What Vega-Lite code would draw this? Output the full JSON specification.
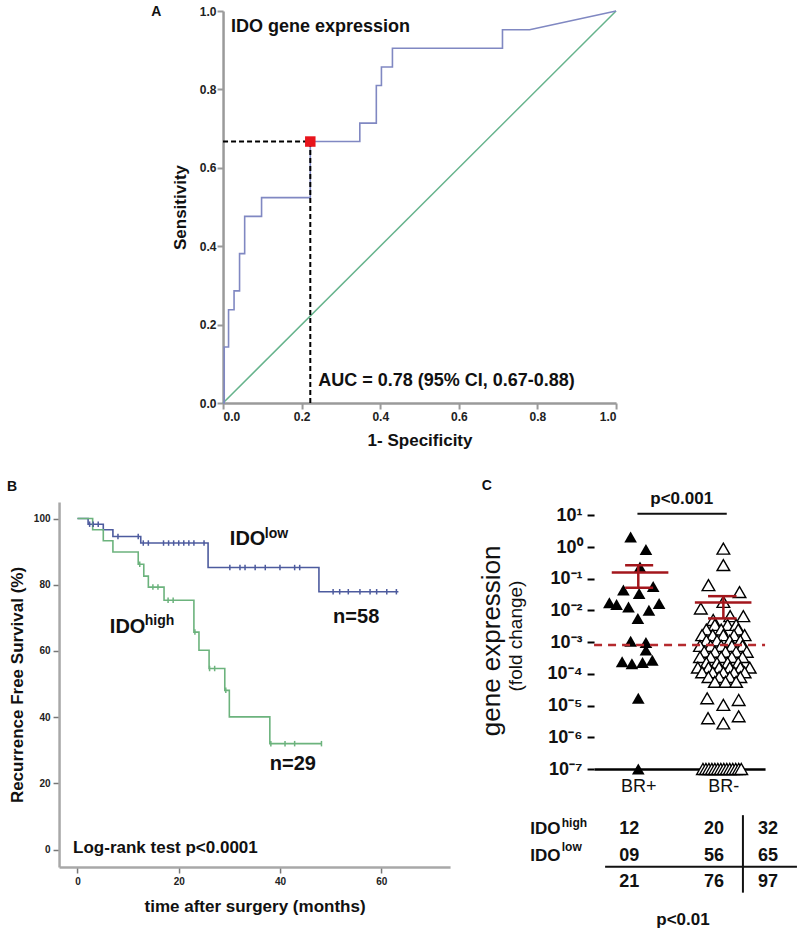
{
  "$schema": "https://vega.github.io/schema/vega-lite/v6.json",
  "background": "white",
  "padding": {"left": 7, "top": 5, "right": 0, "bottom": 0},
  "config": {
    "view": {"stroke": null},
    "axis": {"grid": false, "labelFont": "Liberation Sans", "titleFont": "Liberation Sans"},
    "text": {"font": "Liberation Sans"}
  },
  "center": true,
  "spacing": 31,
  "vconcat": [
    {
      "width": 393,
      "height": 392,
      "encoding": {
        "x": {"field": "x", "type": "quantitative", "scale": {"domain": [0, 1], "nice": false, "zero": false},
          "axis": {"title": "1- Specificity", "values": [0, 0.2, 0.4, 0.6, 0.8, 1], "format": ".1f",
            "domainColor": "#9a9a9a", "domainWidth": 2.5, "tickColor": "#9a9a9a", "tickWidth": 2, "tickSize": 6,
            "labelFontSize": 12, "labelFontWeight": "bold", "labelColor": "#222", "labelPadding": 2,
            "titleFontSize": 17, "titleFontWeight": "bold", "titleColor": "#111", "titlePadding": 10}},
        "y": {"field": "y", "type": "quantitative", "scale": {"domain": [0, 1], "nice": false, "zero": false},
          "axis": {"title": "Sensitivity", "values": [0, 0.2, 0.4, 0.6, 0.8, 1], "format": ".1f",
            "domainColor": "#9a9a9a", "domainWidth": 2.5, "tickColor": "#9a9a9a", "tickWidth": 2, "tickSize": 6,
            "labelFontSize": 12, "labelFontWeight": "bold", "labelColor": "#222", "labelPadding": 1,
            "titleFontSize": 17, "titleFontWeight": "bold", "titleColor": "#111", "titlePadding": 10}}
      },
      "layer": [
        {
          "data": {"values": [{"x": 0, "y": 0}, {"x": 1, "y": 1}]},
          "mark": {"type": "line", "color": "#66b38c", "strokeWidth": 1.5}
        },
        {
          "data": {"values": [
            {"i": 0, "x": 0, "y": 0}, {"i": 1, "x": 0.003, "y": 0}, {"i": 2, "x": 0.003, "y": 0.143},
            {"i": 3, "x": 0.014, "y": 0.143}, {"i": 4, "x": 0.014, "y": 0.238}, {"i": 5, "x": 0.028, "y": 0.238},
            {"i": 6, "x": 0.028, "y": 0.286}, {"i": 7, "x": 0.042, "y": 0.286}, {"i": 8, "x": 0.042, "y": 0.381},
            {"i": 9, "x": 0.055, "y": 0.381}, {"i": 10, "x": 0.055, "y": 0.476}, {"i": 11, "x": 0.098, "y": 0.476},
            {"i": 12, "x": 0.098, "y": 0.524}, {"i": 13, "x": 0.222, "y": 0.524}, {"i": 14, "x": 0.222, "y": 0.667},
            {"i": 15, "x": 0.348, "y": 0.667}, {"i": 16, "x": 0.348, "y": 0.714}, {"i": 17, "x": 0.39, "y": 0.714},
            {"i": 18, "x": 0.39, "y": 0.81}, {"i": 19, "x": 0.403, "y": 0.81}, {"i": 20, "x": 0.403, "y": 0.857},
            {"i": 21, "x": 0.431, "y": 0.857}, {"i": 22, "x": 0.431, "y": 0.905}, {"i": 23, "x": 0.711, "y": 0.905},
            {"i": 24, "x": 0.711, "y": 0.952}, {"i": 25, "x": 0.78, "y": 0.952}, {"i": 26, "x": 1, "y": 1}
          ]},
          "mark": {"type": "line", "color": "#8088c2", "strokeWidth": 1.6},
          "encoding": {"order": {"field": "i", "type": "quantitative"}}
        },
        {
          "data": {"values": [
            {"x": 0, "y": 0.667, "x2": 0.222, "y2": 0.667},
            {"x": 0.222, "y": 0, "x2": 0.222, "y2": 0.667}
          ]},
          "mark": {"type": "rule", "color": "black", "strokeDash": [5, 3], "strokeWidth": 2},
          "encoding": {"x2": {"field": "x2"}, "y2": {"field": "y2"}}
        },
        {
          "data": {"values": [{"x": 0.222, "y": 0.667}]},
          "mark": {"type": "point", "shape": "square", "filled": true, "color": "#e8141c", "size": 110, "opacity": 1}
        },
        {
          "data": {"values": [{"x": 1.043, "y": 0}]},
          "mark": {"type": "point", "filled": true, "color": "white", "size": 4, "opacity": 0}
        },
        {
          "data": {"values": [
            {"x": 0.02, "y": 0.947, "label": "IDO gene expression"},
            {"x": 0.242, "y": 0.043, "label": "AUC = 0.78 (95% CI, 0.67-0.88)"}
          ]},
          "mark": {"type": "text", "align": "left", "baseline": "alphabetic", "fontWeight": "bold", "fontSize": 18, "color": "#111"},
          "encoding": {"text": {"field": "label"}}
        },
        {
          "data": {"values": [{"x": -0.17, "y": 0.997, "label": "A"}]},
          "mark": {"type": "text", "align": "center", "baseline": "middle", "fontWeight": "bold", "fontSize": 14, "color": "#111"},
          "encoding": {"text": {"field": "label"}}
        }
      ]
    },
    {
      "spacing": 28,
      "hconcat": [
        {
          "width": 391,
          "height": 365,
          "encoding": {
            "x": {"field": "t", "type": "quantitative", "scale": {"domain": [-3.64, 73.6], "nice": false, "zero": false},
              "axis": {"title": "time after surgery (months)", "values": [0, 20, 40, 60],
                "domainColor": "#a8a8a8", "domainWidth": 2.5, "tickColor": "#777", "tickWidth": 1.5, "tickSize": 6,
                "labelFontSize": 10, "labelFontWeight": "bold", "labelColor": "#222", "labelPadding": 3,
                "titleFontSize": 17, "titleFontWeight": "bold", "titleColor": "#111", "titlePadding": 12}},
            "y": {"field": "s", "type": "quantitative", "scale": {"domain": [-5.26, 105], "nice": false, "zero": false},
              "axis": {"title": "Recurrence Free Survival (%)", "values": [0, 20, 40, 60, 80, 100],
                "domainColor": "#a8a8a8", "domainWidth": 2.5, "tickColor": "#777", "tickWidth": 1.5, "tickSize": 6,
                "labelFontSize": 10, "labelFontWeight": "bold", "labelColor": "#222", "labelPadding": 3,
                "titleFontSize": 17, "titleFontWeight": "bold", "titleColor": "#111", "titlePadding": 7}}
          },
          "layer": [
            {
              "data": {"values": [
                {"g": "low", "t": 0, "s": 100}, {"g": "low", "t": 2.1, "s": 98.3}, {"g": "low", "t": 5.1, "s": 96.6},
                {"g": "low", "t": 7.0, "s": 94.6}, {"g": "low", "t": 12.5, "s": 92.6}, {"g": "low", "t": 25.8, "s": 85.2},
                {"g": "low", "t": 47.7, "s": 77.9}, {"g": "low", "t": 63.4, "s": 77.9},
                {"g": "high", "t": 0, "s": 100}, {"g": "high", "t": 3.0, "s": 96.6}, {"g": "high", "t": 5.1, "s": 93.3},
                {"g": "high", "t": 7.0, "s": 89.9}, {"g": "high", "t": 12.0, "s": 86.2}, {"g": "high", "t": 13.1, "s": 82.6},
                {"g": "high", "t": 14.0, "s": 79.3}, {"g": "high", "t": 17.1, "s": 75.3}, {"g": "high", "t": 23.0, "s": 65.7},
                {"g": "high", "t": 24.0, "s": 60.2}, {"g": "high", "t": 26.0, "s": 54.7}, {"g": "high", "t": 29.1, "s": 48.1},
                {"g": "high", "t": 30.0, "s": 40.1}, {"g": "high", "t": 38.0, "s": 32.0}, {"g": "high", "t": 48.2, "s": 32.0}
              ]},
              "mark": {"type": "line", "interpolate": "step-after", "strokeWidth": 1.6},
              "encoding": {
                "color": {"field": "g", "type": "nominal", "scale": {"domain": ["low", "high"], "range": ["#4d5b9e", "#6cb37d"]}, "legend": null},
                "order": {"field": "t", "type": "quantitative"}
              }
            },
            {
              "data": {"values": [
                {"g": "low", "t": 2.4, "s": 98.3}, {"g": "low", "t": 3.1, "s": 98.3}, {"g": "low", "t": 4.1, "s": 98.3},
                {"g": "low", "t": 8.0, "s": 94.6}, {"g": "low", "t": 12.0, "s": 94.6},
                {"g": "low", "t": 13.0, "s": 92.6}, {"g": "low", "t": 14.0, "s": 92.6}, {"g": "low", "t": 17.0, "s": 92.6},
                {"g": "low", "t": 18.0, "s": 92.6}, {"g": "low", "t": 19.0, "s": 92.6}, {"g": "low", "t": 20.0, "s": 92.6},
                {"g": "low", "t": 21.0, "s": 92.6}, {"g": "low", "t": 22.0, "s": 92.6}, {"g": "low", "t": 23.0, "s": 92.6},
                {"g": "low", "t": 25.0, "s": 92.6},
                {"g": "low", "t": 30.1, "s": 85.2}, {"g": "low", "t": 32.1, "s": 85.2}, {"g": "low", "t": 33.1, "s": 85.2},
                {"g": "low", "t": 35.1, "s": 85.2}, {"g": "low", "t": 37.1, "s": 85.2}, {"g": "low", "t": 40.0, "s": 85.2},
                {"g": "low", "t": 42.9, "s": 85.2}, {"g": "low", "t": 43.9, "s": 85.2},
                {"g": "low", "t": 50.5, "s": 77.9}, {"g": "low", "t": 51.8, "s": 77.9}, {"g": "low", "t": 53.5, "s": 77.9},
                {"g": "low", "t": 55.8, "s": 77.9}, {"g": "low", "t": 57.8, "s": 77.9}, {"g": "low", "t": 59.1, "s": 77.9},
                {"g": "low", "t": 61.1, "s": 77.9}, {"g": "low", "t": 63.0, "s": 77.9},
                {"g": "high", "t": 12.3, "s": 86.2}, {"g": "high", "t": 14.9, "s": 79.3}, {"g": "high", "t": 15.9, "s": 79.3},
                {"g": "high", "t": 17.9, "s": 75.3}, {"g": "high", "t": 18.9, "s": 75.3}, {"g": "high", "t": 23.2, "s": 65.7},
                {"g": "high", "t": 26.1, "s": 54.7}, {"g": "high", "t": 27.1, "s": 54.7}, {"g": "high", "t": 29.3, "s": 48.1},
                {"g": "high", "t": 38.2, "s": 32.0}, {"g": "high", "t": 41.0, "s": 32.0}, {"g": "high", "t": 42.9, "s": 32.0},
                {"g": "high", "t": 48.2, "s": 32.0}
              ]},
              "mark": {"type": "point", "shape": "M0,-1L0,1", "size": 30, "strokeWidth": 1.5, "opacity": 1},
              "encoding": {
                "color": {"field": "g", "type": "nominal", "scale": {"domain": ["low", "high"], "range": ["#4d5b9e", "#6cb37d"]}, "legend": null}
              }
            },
            {
              "data": {"values": [
                {"t": 30.1, "s": 91.9, "label": "IDO"},
                {"t": 6.4, "s": 65.3, "label": "IDO"},
                {"t": 50.5, "s": 68.3, "label": "n=58"},
                {"t": 38.0, "s": 24.0, "label": "n=29"}
              ]},
              "mark": {"type": "text", "align": "left", "baseline": "alphabetic", "fontWeight": "bold", "fontSize": 20, "color": "#111"},
              "encoding": {"text": {"field": "label"}}
            },
            {
              "data": {"values": [
                {"t": 37.0, "s": 94.0, "label": "low"},
                {"t": 13.3, "s": 67.8, "label": "high"}
              ]},
              "mark": {"type": "text", "align": "left", "baseline": "alphabetic", "fontWeight": "bold", "fontSize": 14, "color": "#111"},
              "encoding": {"text": {"field": "label"}}
            },
            {
              "data": {"values": [{"t": -0.87, "s": -0.9, "label": "Log-rank test p<0.0001"}]},
              "mark": {"type": "text", "align": "left", "baseline": "alphabetic", "fontWeight": "bold", "fontSize": 17, "color": "#111"},
              "encoding": {"text": {"field": "label"}}
            },
            {
              "data": {"values": [{"t": -12.9, "s": 109.5, "label": "B"}]},
              "mark": {"type": "text", "align": "center", "baseline": "middle", "fontWeight": "bold", "fontSize": 14, "color": "#111"},
              "encoding": {"text": {"field": "label"}}
            }
          ]
        },
        {
          "width": 171,
          "height": 267,
          "encoding": {
            "x": {"field": "x", "type": "quantitative", "scale": {"domain": [-0.04, 3.98], "nice": false, "zero": false},
              "axis": {"title": null, "values": [1, 3], "labelExpr": "datum.value == 1 ? 'BR+' : 'BR-'",
                "domainColor": "black", "domainWidth": 2.5, "tickSize": 0,
                "labelFontSize": 18, "labelFontWeight": "normal", "labelColor": "#111", "labelPadding": 8}},
            "y": {"field": "v", "type": "quantitative", "scale": {"type": "log", "domain": [1e-7, 26.3], "nice": false},
              "axis": {"title": "(fold change)", "values": [1e-7, 1e-6, 1e-5, 1e-4, 1e-3, 1e-2, 1e-1, 1, 10],
                "labelExpr": "'10' + (round(log(datum.value)/LN10) < 0 ? '⁻' : '') + substring('⁰¹²³⁴⁵⁶⁷', abs(round(log(datum.value)/LN10)), abs(round(log(datum.value)/LN10)) + 1)",
                "domain": false, "tickColor": "black", "tickWidth": 2, "tickSize": 7,
                "labelFontSize": 18, "labelFontWeight": "bold", "labelColor": "#111", "labelPadding": 5,
                "titleFontSize": 19, "titleFontWeight": "normal", "titleColor": "#111", "titlePadding": 22}}
          },
          "layer": [
            {
              "data": {"values": [{"v": 1e-7, "v2": 10}]},
              "mark": {"type": "rule", "color": "black", "strokeWidth": 3},
              "encoding": {"x": {"datum": -0.04}, "y2": {"field": "v2"}}
            },
            {
              "data": {"values": [
                {"v": 2e-7}, {"v": 3e-7}, {"v": 4e-7}, {"v": 5e-7}, {"v": 6e-7}, {"v": 7e-7}, {"v": 8e-7}, {"v": 9e-7},
                {"v": 2e-6}, {"v": 3e-6}, {"v": 4e-6}, {"v": 5e-6}, {"v": 6e-6}, {"v": 7e-6}, {"v": 8e-6}, {"v": 9e-6},
                {"v": 2e-5}, {"v": 3e-5}, {"v": 4e-5}, {"v": 5e-5}, {"v": 6e-5}, {"v": 7e-5}, {"v": 8e-5}, {"v": 9e-5},
                {"v": 2e-4}, {"v": 3e-4}, {"v": 4e-4}, {"v": 5e-4}, {"v": 6e-4}, {"v": 7e-4}, {"v": 8e-4}, {"v": 9e-4},
                {"v": 0.002}, {"v": 0.003}, {"v": 0.004}, {"v": 0.005}, {"v": 0.006}, {"v": 0.007}, {"v": 0.008}, {"v": 0.009},
                {"v": 0.02}, {"v": 0.03}, {"v": 0.04}, {"v": 0.05}, {"v": 0.06}, {"v": 0.07}, {"v": 0.08}, {"v": 0.09},
                {"v": 0.2}, {"v": 0.3}, {"v": 0.4}, {"v": 0.5}, {"v": 0.6}, {"v": 0.7}, {"v": 0.8}, {"v": 0.9},
                {"v": 2}, {"v": 3}, {"v": 4}, {"v": 5}, {"v": 6}, {"v": 7}, {"v": 8}, {"v": 9}
              ]},
              "mark": {"type": "rule", "color": "black", "strokeWidth": 1.5},
              "encoding": {"x": {"datum": -0.134}, "x2": {"datum": -0.04}}
            },
            {
              "data": {"values": [
                {"x": 3.0, "v": 0.89}, {"x": 3.0, "v": 0.27}, {"x": 2.65, "v": 0.063}, {"x": 3.38, "v": 0.038},
                {"x": 3.0, "v": 0.0186}, {"x": 2.47, "v": 0.0115}, {"x": 3.47, "v": 0.0066}, {"x": 3.16, "v": 0.0066},
                {"x": 2.76, "v": 0.005},
                {"x": 2.8, "v": 0.0035}, {"x": 3.1, "v": 0.0035}, {"x": 3.3, "v": 0.0035},
                {"x": 2.6, "v": 0.0025}, {"x": 2.95, "v": 0.0025}, {"x": 3.35, "v": 0.0025},
                {"x": 2.5, "v": 0.00166}, {"x": 2.75, "v": 0.00166}, {"x": 3.0, "v": 0.00166}, {"x": 3.25, "v": 0.00166}, {"x": 3.5, "v": 0.00166},
                {"x": 2.6, "v": 0.00112}, {"x": 2.85, "v": 0.00112}, {"x": 3.15, "v": 0.00112}, {"x": 3.4, "v": 0.00112},
                {"x": 2.45, "v": 0.00076}, {"x": 2.7, "v": 0.00076}, {"x": 2.95, "v": 0.00076}, {"x": 3.2, "v": 0.00076}, {"x": 3.45, "v": 0.00076},
                {"x": 2.55, "v": 0.0005}, {"x": 2.8, "v": 0.0005}, {"x": 3.05, "v": 0.0005}, {"x": 3.3, "v": 0.0005}, {"x": 3.55, "v": 0.0005},
                {"x": 2.45, "v": 0.00034}, {"x": 2.7, "v": 0.00034}, {"x": 2.95, "v": 0.00034}, {"x": 3.2, "v": 0.00034}, {"x": 3.45, "v": 0.00034},
                {"x": 2.6, "v": 0.000224}, {"x": 2.85, "v": 0.000224}, {"x": 3.1, "v": 0.000224}, {"x": 3.35, "v": 0.000224},
                {"x": 2.4, "v": 0.000158}, {"x": 2.65, "v": 0.000158}, {"x": 2.9, "v": 0.000158}, {"x": 3.15, "v": 0.000158}, {"x": 3.4, "v": 0.000158}, {"x": 3.62, "v": 0.000158},
                {"x": 2.5, "v": 0.000112}, {"x": 2.75, "v": 0.000112}, {"x": 3.0, "v": 0.000112}, {"x": 3.25, "v": 0.000112}, {"x": 3.5, "v": 0.000112},
                {"x": 2.65, "v": 0.0000794}, {"x": 2.9, "v": 0.0000794}, {"x": 3.15, "v": 0.0000794}, {"x": 3.4, "v": 0.0000794},
                {"x": 2.8, "v": 0.0000562}, {"x": 3.05, "v": 0.0000562}, {"x": 3.3, "v": 0.0000562},
                {"x": 2.62, "v": 0.000017}, {"x": 3.0, "v": 0.0000105}, {"x": 3.36, "v": 0.000015},
                {"x": 2.64, "v": 0.000004}, {"x": 3.0, "v": 0.00000275}, {"x": 3.36, "v": 0.0000046},
                {"x": 2.52, "v": 1e-7}, {"x": 2.59, "v": 1e-7}, {"x": 2.66, "v": 1e-7}, {"x": 2.73, "v": 1e-7},
                {"x": 2.8, "v": 1e-7}, {"x": 2.87, "v": 1e-7}, {"x": 2.94, "v": 1e-7}, {"x": 3.01, "v": 1e-7},
                {"x": 3.08, "v": 1e-7}, {"x": 3.15, "v": 1e-7}, {"x": 3.22, "v": 1e-7}, {"x": 3.29, "v": 1e-7},
                {"x": 3.36, "v": 1e-7}, {"x": 3.42, "v": 1e-7}
              ]},
              "mark": {"type": "point", "shape": "triangle-up", "size": 160, "filled": false, "fill": "white", "fillOpacity": 1, "stroke": "black", "strokeWidth": 1.4, "opacity": 1}
            },
            {
              "data": {"values": [
                {"x": 0.82, "v": 2.07}, {"x": 1.18, "v": 0.83}, {"x": 1.04, "v": 0.234}, {"x": 0.65, "v": 0.044},
                {"x": 1.35, "v": 0.057}, {"x": 1.02, "v": 0.034}, {"x": 0.32, "v": 0.0174}, {"x": 0.49, "v": 0.0155},
                {"x": 0.77, "v": 0.0129}, {"x": 1.25, "v": 0.0102}, {"x": 1.49, "v": 0.0166}, {"x": 0.99, "v": 0.0056},
                {"x": 0.82, "v": 0.00107}, {"x": 1.18, "v": 0.00098}, {"x": 1.18, "v": 0.00056}, {"x": 0.62, "v": 0.00024},
                {"x": 0.85, "v": 0.00021}, {"x": 1.1, "v": 0.00023}, {"x": 1.33, "v": 0.00027}, {"x": 1.0, "v": 0.000017},
                {"x": 1.0, "v": 1e-7}
              ]},
              "mark": {"type": "point", "shape": "triangle-up", "size": 160, "filled": true, "color": "black", "opacity": 1}
            },
            {
              "data": {"values": [
                {"x": 0.376, "x2": 1.707, "v": 0.157, "v2": 0.157},
                {"x": 0.69, "x2": 1.35, "v": 0.266, "v2": 0.266},
                {"x": 0.69, "x2": 1.35, "v": 0.052, "v2": 0.052},
                {"x": 1.0, "x2": 1.0, "v": 0.052, "v2": 0.266},
                {"x": 2.33, "x2": 3.66, "v": 0.0178, "v2": 0.0178},
                {"x": 2.64, "x2": 3.31, "v": 0.0282, "v2": 0.0282},
                {"x": 2.64, "x2": 3.31, "v": 0.0056, "v2": 0.0056},
                {"x": 3.0, "x2": 3.0, "v": 0.0056, "v2": 0.0282}
              ]},
              "mark": {"type": "rule", "color": "#a3161c", "strokeWidth": 2.5},
              "encoding": {"x2": {"field": "x2"}, "y2": {"field": "v2"}}
            },
            {
              "data": {"values": [{"x": -0.04, "x2": 3.98, "v": 0.00081}]},
              "mark": {"type": "rule", "color": "#b52a2e", "strokeWidth": 2.5, "strokeDash": [8, 6]},
              "encoding": {"x2": {"field": "x2"}}
            },
            {
              "data": {"values": [
                {"x": 0.98, "x2": 3.08, "v": 11.2, "v2": 11.2},
                {"x": 0.22, "x2": 4.73, "v": 8.3e-11, "v2": 8.3e-11},
                {"x": 3.46, "x2": 3.46, "v": 3.5e-9, "v2": 1.26e-11}
              ]},
              "mark": {"type": "rule", "color": "#111", "strokeWidth": 2},
              "encoding": {"x2": {"field": "x2"}, "y2": {"field": "v2"}}
            },
            {
              "data": {"values": [
                {"x": 2.02, "v": 33.6, "label": "p<0.001"},
                {"x": 2.05, "v": 1.7e-12, "label": "p<0.01"}
              ]},
              "mark": {"type": "text", "align": "center", "baseline": "middle", "fontWeight": "bold", "fontSize": 17, "color": "#111"},
              "encoding": {"text": {"field": "label"}}
            },
            {
              "data": {"values": [
                {"x": 0.79, "v": 1.29e-9, "label": "12"}, {"x": 2.78, "v": 1.29e-9, "label": "20"}, {"x": 4.05, "v": 1.29e-9, "label": "32"},
                {"x": 0.79, "v": 1.82e-10, "label": "09"}, {"x": 2.78, "v": 1.82e-10, "label": "56"}, {"x": 4.05, "v": 1.82e-10, "label": "65"},
                {"x": 0.79, "v": 2.82e-11, "label": "21"}, {"x": 2.78, "v": 2.82e-11, "label": "76"}, {"x": 4.05, "v": 2.82e-11, "label": "97"}
              ]},
              "mark": {"type": "text", "align": "center", "baseline": "middle", "fontWeight": "bold", "fontSize": 18, "color": "#111"},
              "encoding": {"text": {"field": "label"}}
            },
            {
              "data": {"values": [
                {"x": -1.54, "v": 1.29e-9, "label": "IDO"},
                {"x": -1.54, "v": 1.82e-10, "label": "IDO"}
              ]},
              "mark": {"type": "text", "align": "left", "baseline": "middle", "fontWeight": "bold", "fontSize": 17, "color": "#111"},
              "encoding": {"text": {"field": "label"}}
            },
            {
              "data": {"values": [
                {"x": -0.8, "v": 2.04e-9, "label": "high"},
                {"x": -0.8, "v": 3.4e-10, "label": "low"}
              ]},
              "mark": {"type": "text", "align": "left", "baseline": "middle", "fontWeight": "bold", "fontSize": 12, "color": "#111"},
              "encoding": {"text": {"field": "label"}}
            },
            {
              "data": {"values": [{"x": -2.44, "v": 0.0011, "label": "gene expression"}]},
              "mark": {"type": "text", "align": "center", "baseline": "middle", "angle": 270, "fontSize": 26, "color": "#111"},
              "encoding": {"text": {"field": "label"}}
            },
            {
              "data": {"values": [{"x": -2.56, "v": 81.9, "label": "C"}]},
              "mark": {"type": "text", "align": "center", "baseline": "middle", "fontWeight": "bold", "fontSize": 14, "color": "#111"},
              "encoding": {"text": {"field": "label"}}
            }
          ]
        }
      ]
    }
  ]
}
